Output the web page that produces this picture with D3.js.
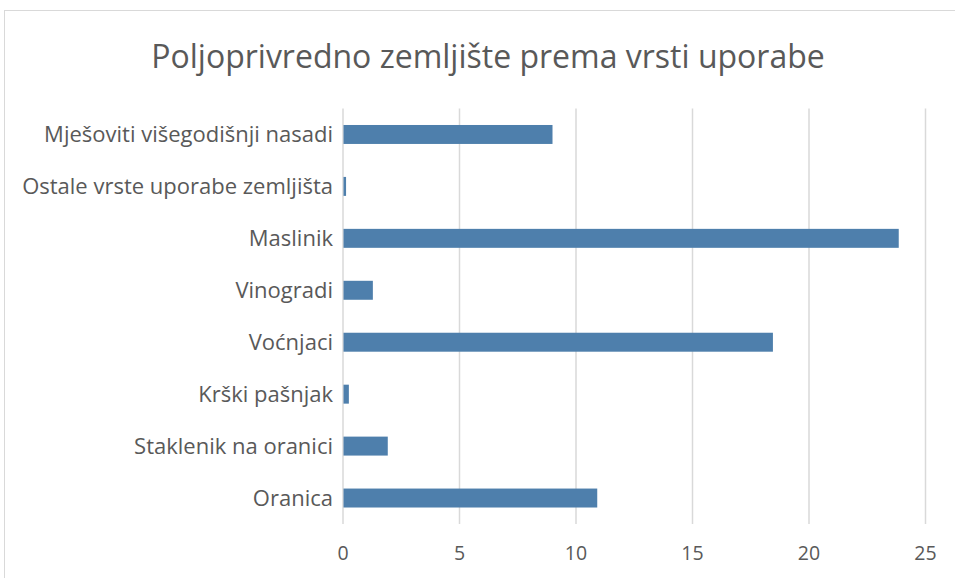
<!DOCTYPE html>
<html>
<head>
<meta charset="utf-8">
<script src="https://cdn.jsdelivr.net/npm/d3@7"></script>
<style>
  body { margin: 0; background: #fff; }
  text { font-family: "Open Sans", "Noto Sans", sans-serif; fill: #595959; }
</style>
</head>
<body>
<div id="chart"></div>
<script>
// Categories from top to bottom, as shown in the chart
const categories = [
  'Mješoviti višegodišnji nasadi',
  'Ostale vrste uporabe zemljišta',
  'Maslinik',
  'Vinogradi',
  'Voćnjaci',
  'Krški pašnjak',
  'Staklenik na oranici',
  'Oranica'
];
const values = [8.97, 0.11, 23.83, 1.26, 18.43, 0.23, 1.9, 10.89];
const xTicks = [0, 5, 10, 15, 20, 25];
const title = 'Poljoprivredno zemljište prema vrsti uporabe';

const config = {
  width: 955,
  height: 578,
  margin: {top: 108.5, left: 343, right: 29.5, bottom: 54}
};

const svg = d3.select('#chart').append('svg')
    .attr('width', config.width)
    .attr('height', config.height);

// Chart frame
svg.append('rect')
    .attr('x', 4.5).attr('y', 10.5)
    .attr('width', 980).attr('height', 600)
    .attr('fill', 'none')
    .attr('stroke', '#d9d9d9')
    .attr('stroke-width', 1);

const innerW = config.width - config.margin.left - config.margin.right;
const innerH = config.height - config.margin.top - config.margin.bottom;

const xScale = d3.scaleLinear()
    .domain([0, 25])
    .range([0, innerW]);

const yScale = d3.scaleBand()
    .domain(categories)
    .range([0, innerH])
    .paddingInner(0.635)
    .paddingOuter(0.3175);

const chart = svg.append('g')
    .attr('transform', `translate(${config.margin.left},${config.margin.top})`);

// Vertical gridlines
chart.append('g')
  .selectAll('line')
  .data(xTicks)
  .join('line')
    .attr('x1', d => xScale(d)).attr('x2', d => xScale(d))
    .attr('y1', 0).attr('y2', innerH)
    .attr('stroke', '#d9d9d9')
    .attr('stroke-width', 1.5);

// Bars
chart.append('g')
  .selectAll('rect')
  .data(values)
  .join('rect')
    .attr('x', xScale(0) + 0.5)
    .attr('y', (d, i) => yScale(categories[i]))
    .attr('width', d => xScale(d) - xScale(0))
    .attr('height', yScale.bandwidth())
    .attr('fill', '#4e7fac');

// Category labels
chart.append('g')
  .selectAll('text')
  .data(categories)
  .join('text')
    .attr('x', -10)
    .attr('y', d => yScale(d) + yScale.bandwidth() / 2)
    .attr('dy', '0.35em')
    .attr('text-anchor', 'end')
    .style('font-size', '22px')
    .text(d => d);

// X tick labels
chart.append('g')
  .selectAll('text')
  .data(xTicks)
  .join('text')
    .attr('x', d => xScale(d))
    .attr('y', innerH + 29)
    .attr('dy', '0.35em')
    .attr('text-anchor', 'middle')
    .style('font-size', '19.5px')
    .text(d => d);

// Title
svg.append('text')
    .attr('x', 488)
    .attr('y', 57)
    .attr('dy', '0.35em')
    .attr('text-anchor', 'middle')
    .style('font-size', '32px')
    .text(title);
</script>
</body>
</html>
